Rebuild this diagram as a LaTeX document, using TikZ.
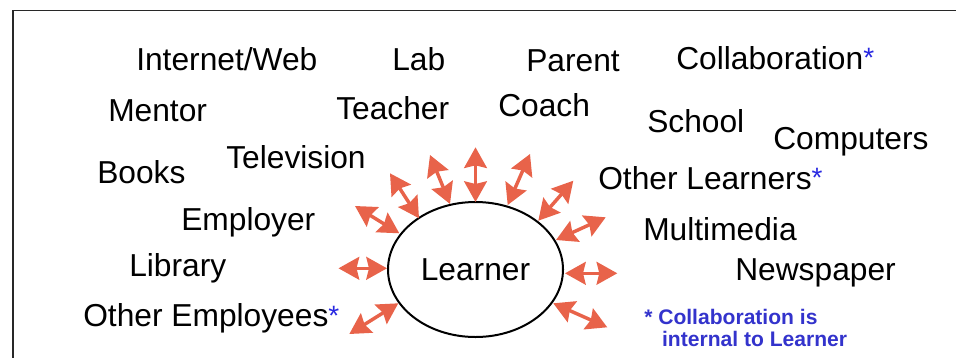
\documentclass[tikz,border=0pt]{standalone}
\usepackage{fontspec}
\setmainfont{Liberation Sans}
\usetikzlibrary{arrows.meta,shapes.geometric}
\definecolor{arrowred}{RGB}{232,99,74}
\definecolor{starblue}{RGB}{40,40,225}
\definecolor{noteblue}{RGB}{51,51,204}
\definecolor{framegray}{RGB}{40,40,40}
\tikzset{
  lbl/.style={anchor=base west, inner sep=0pt, font=\fontsize{23.8}{28}\selectfont},
  note/.style={anchor=base west, inner sep=0pt, align=left, text=noteblue,
    font=\fontsize{15.8}{16.8}\selectfont\bfseries},
  dbl/.style={draw=arrowred, line width=2.6pt,
    {Stealth[length=15.5pt,width=17pt,inset=2pt]}-{Stealth[length=15.5pt,width=17pt,inset=2pt]}},
  learnerbox/.style={ellipse, draw=black, line width=1.5pt, minimum width=131.25pt,
    minimum height=101.25pt, inner sep=0pt, font=\fontsize{23.8}{28}\selectfont},
  framebar/.style={draw=framegray, line width=0.9pt}
}
\newcommand{\bstar}{\textcolor{starblue}{\raisebox{1pt}{\fontsize{21}{21}\selectfont *}}}
\begin{document}
\begin{tikzpicture}[x=0.75pt,y=-0.75pt]
\useasboundingbox (0,0) rectangle (956,358);
% frame (top and left edges)
\coordinate (ftop) at (956,10.5);
\coordinate (fcorner) at (13,10.5);
\coordinate (fbot) at (13,358);
\draw[framebar] (ftop) -- (fcorner) -- (fbot);

% centre
\node[learnerbox] (learner) at (475.5,269.5) {\raisebox{-2pt}{Learner}};

% labels
\node[lbl] (internet) at (136,70) {Internet/Web};
\node[lbl] (lab) at (392,70) {Lab};
\node[lbl] (parent) at (526,71.7) {Parent};
\node[lbl] (collab) at (676,69) {Collaboration\bstar};
\node[lbl] (mentor) at (108,121.7) {Mentor};
\node[lbl] (teacher) at (336,119) {Teacher};
\node[lbl] (coach) at (498,116) {Coach};
\node[lbl] (school) at (647,132.7) {School};
\node[lbl] (computers) at (773,149.3) {Computers};
\node[lbl] (books) at (97,183.3) {Books};
\node[lbl] (television) at (226,168.3) {Television};
\node[lbl] (otherlearners) at (598,189.3) {Other Learners\bstar};
\node[lbl] (employer) at (181,230.7) {Employer};
\node[lbl] (multimedia) at (643,240) {Multimedia};
\node[lbl] (library) at (129,276.7) {Library};
\node[lbl] (newspaper) at (735,280.7) {Newspaper};
\node[lbl] (otheremployees) at (83,326.7) {Other Employees\bstar};

% footnote (base anchor = last line's baseline)
\node[note] (footnote) at (644,346.7) {* Collaboration is\\[-0.2pt]\hspace*{13.4pt}internal to Learner};

% arrow end points
\coordinate (a1) at (338.5,268.3);  \coordinate (b1) at (387,268.3);
\coordinate (a2) at (355,206);      \coordinate (b2) at (399.3,233.3);
\coordinate (a3) at (390,173.3);    \coordinate (b3) at (419,218.3);
\coordinate (a4) at (430,155);      \coordinate (b4) at (450,204);
\coordinate (a5) at (475.5,147.3);  \coordinate (b5) at (475.5,202);
\coordinate (a6) at (530,154);      \coordinate (b6) at (507.7,205);
\coordinate (a7) at (573.3,180.7);  \coordinate (b7) at (538.3,220.7);
\coordinate (a8) at (605.7,217.3);  \coordinate (b8) at (556,240);
\coordinate (a9) at (565,273.3);    \coordinate (b9) at (617.3,273.3);
\coordinate (a10) at (553.3,303.3); \coordinate (b10) at (607.3,327.3);
\coordinate (a11) at (349.3,334);   \coordinate (b11) at (398.3,303.3);

\foreach \i in {1,...,11} {
  \draw[dbl] (a\i) -- (b\i);
}
\end{tikzpicture}
\end{document}
